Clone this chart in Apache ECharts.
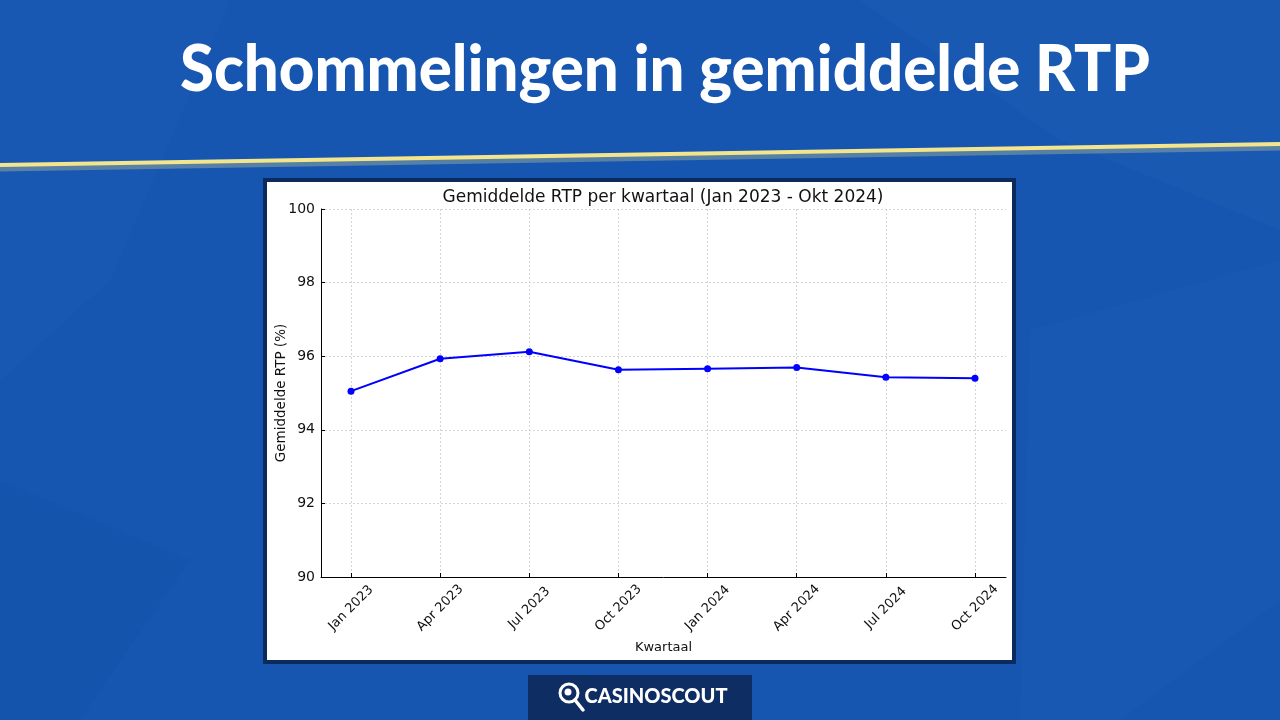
<!DOCTYPE html>
<html>
<head>
<meta charset="utf-8">
<script src="https://cdn.jsdelivr.net/npm/echarts@6/dist/echarts.min.js"></script>
<style>
html,body{margin:0;padding:0;background:#1656b1;}
#c{width:1280px;height:720px;}
</style>
</head>
<body>
<div id="c"></div>
<script>
// ---- data ----
const categories = ['Jan 2023','Apr 2023','Jul 2023','Oct 2023','Jan 2024','Apr 2024','Jul 2024','Oct 2024'];
const rtpValues = [95.05, 95.93, 96.12, 95.63, 95.66, 95.69, 95.43, 95.40];
const yTicks = [90, 92, 94, 96, 98, 100];
const pageTitle = 'Schommelingen in gemiddelde RTP';
const chartTitle = 'Gemiddelde RTP per kwartaal (Jan 2023 - Okt 2024)';
const yAxisName = 'Gemiddelde RTP (%)';
const xAxisName = 'Kwartaal';
const brand = 'CASINOSCOUT';

// measure title width to condense it to the reference width
const cv = document.createElement('canvas').getContext('2d');
cv.font = '900 64px Lato';
const titleW = cv.measureText(pageTitle).width;
const titleScale = 970 / titleW;

const chart = echarts.init(document.getElementById('c'));
const font = 'DejaVu Sans';
const gridCol = '#d4d4d4';

chart.setOption({
  backgroundColor: '#1656b1',
  animation: false,
  graphic: [
    // subtle background facets
    {type:'polygon', z:-10, shape:{points:[[0,0],[230,0],[110,280],[0,380]]}, style:{fill:'rgba(255,255,255,0.015)'}},
    {type:'polygon', z:-10, shape:{points:[[860,0],[1280,0],[1280,230],[1060,140]]}, style:{fill:'rgba(255,255,255,0.018)'}},
    {type:'polygon', z:-10, shape:{points:[[0,480],[190,560],[80,720],[0,720]]}, style:{fill:'rgba(0,0,0,0.02)'}},
    {type:'polygon', z:-10, shape:{points:[[1030,330],[1280,260],[1280,600],[1120,720],[1020,720]]}, style:{fill:'rgba(255,255,255,0.015)'}},
    // yellow stripe
    {type:'line', z:-5, shape:{x1:0,y1:168,x2:1280,y2:147}, style:{stroke:'rgba(240,225,140,0.3)', lineWidth:7}},
    {type:'line', z:-4, shape:{x1:0,y1:165,x2:1280,y2:144}, style:{stroke:'#f3e48e', lineWidth:4}},
    // page title
    {type:'text', z:10, x:665, y:70, scaleX:titleScale, originX:0, originY:0,
      style:{text:pageTitle, fill:'#ffffff', font:'900 64px Lato', textAlign:'center', textVerticalAlign:'middle'}},
    // chart panel
    {type:'rect', z:-2, shape:{x:265,y:180,width:749,height:482}, style:{fill:'#ffffff', stroke:'#0c2a5c', lineWidth:4}},
    // chart title
    {type:'text', z:10, x:663, y:198,
      style:{text:chartTitle, fill:'#111111', font:'17px "DejaVu Sans"', textAlign:'center', textVerticalAlign:'middle'}},
    // logo box
    {type:'rect', z:1, shape:{x:528,y:675,width:224,height:45}, style:{fill:'#0e2d63'}},
    {type:'circle', z:2, shape:{cx:569,cy:693,r:9}, style:{fill:'none', stroke:'#ffffff', lineWidth:3}},
    {type:'line', z:2, shape:{x1:575,y1:700,x2:583,y2:710}, style:{stroke:'#ffffff', lineWidth:3.5, lineCap:'round'}},
    {type:'circle', z:2, shape:{cx:568,cy:692,r:3.5}, style:{fill:'#ffffff'}},
    {type:'text', z:2, x:656, y:697,
      style:{text:brand, fill:'#ffffff', font:'900 20px Lato', textAlign:'center', textVerticalAlign:'middle'}}
  ],
  grid: [
    {left:321, right:274, top:209, bottom:143},
    {left:351, right:305, top:209, bottom:143}
  ],
  xAxis: [
    {gridIndex:0, type:'value', min:0, max:1, axisLabel:{show:false}, axisTick:{show:false}, splitLine:{show:false},
      axisLine:{show:true, lineStyle:{color:'#000', width:1}},
      name:xAxisName, nameLocation:'middle', nameGap:64, nameMoveOverlap:false,
      nameTextStyle:{fontFamily:font, fontSize:13, color:'#111'}},
    {gridIndex:1, type:'category', data:categories, boundaryGap:false,
      axisLine:{show:false},
      axisTick:{show:true, inside:true, length:4, alignWithLabel:true, lineStyle:{color:'#000'}},
      axisLabel:{rotate:45, align:'center', verticalAlign:'middle', margin:31, fontFamily:font, fontSize:13, color:'#111'},
      splitLine:{show:true, lineStyle:{color:gridCol, type:[2,2], width:1}}}
  ],
  yAxis: [
    {gridIndex:0, type:'value', min:90, max:100, interval:2,
      axisLine:{show:true, lineStyle:{color:'#000', width:1}},
      axisTick:{show:true, inside:true, length:4, lineStyle:{color:'#000'}},
      axisLabel:{fontFamily:font, fontSize:14, color:'#111', margin:6,
        formatter: v => yTicks.includes(v) ? String(v) : ''},
      splitLine:{show:true, lineStyle:{color:gridCol, type:[2,2], width:1}},
      name:yAxisName, nameLocation:'middle', nameGap:33, nameRotate:90, nameMoveOverlap:false,
      nameTextStyle:{fontFamily:font, fontSize:13.5, color:'#111'}},
    {gridIndex:1, type:'value', min:90, max:100, show:false, splitLine:{show:false}}
  ],
  series: [{
    type:'line', xAxisIndex:1, yAxisIndex:1, data:rtpValues,
    symbol:'circle', symbolSize:7,
    lineStyle:{color:'#0000ff', width:2},
    itemStyle:{color:'#0000ff'},
    z:5
  }]
});
</script>
</body>
</html>
